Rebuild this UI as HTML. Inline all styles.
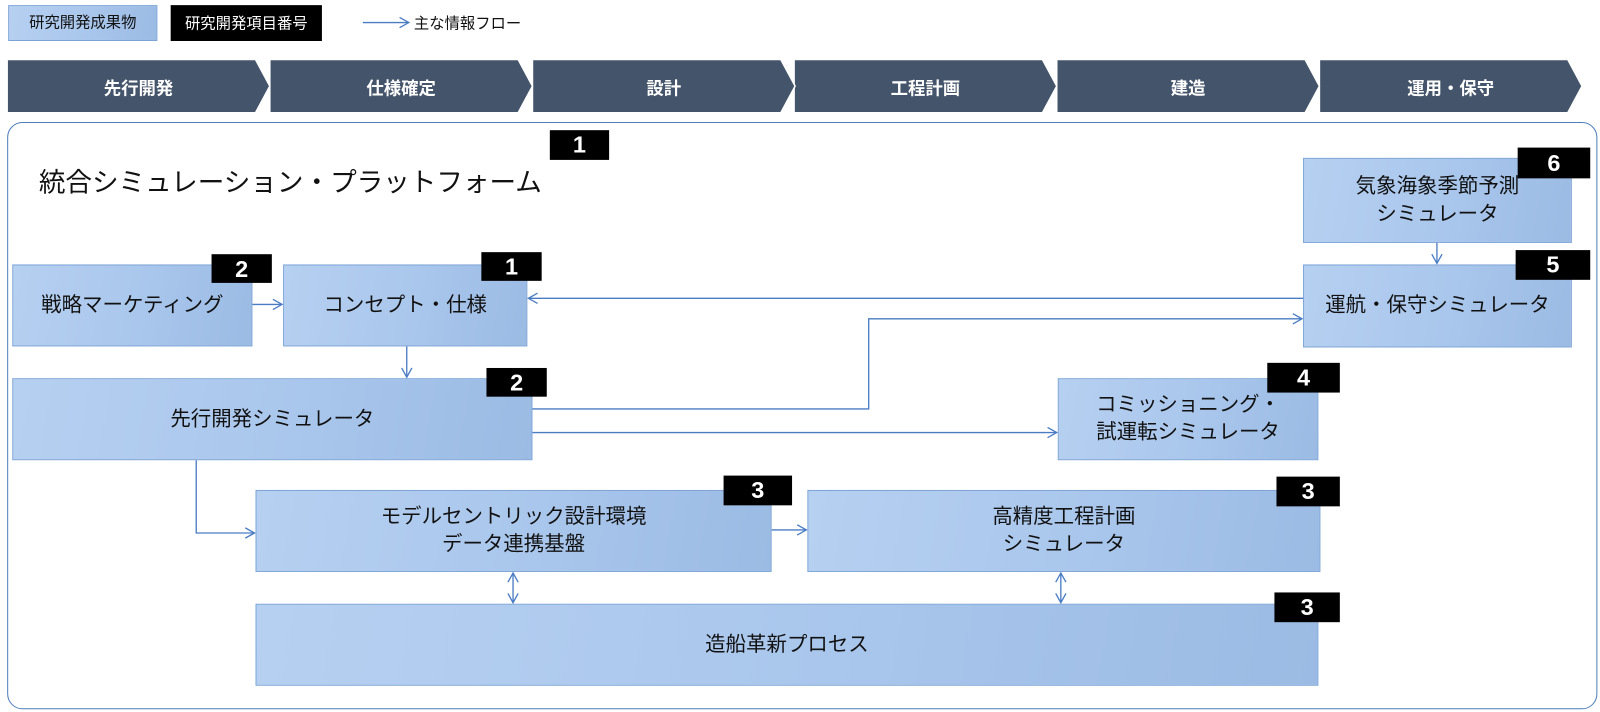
<!DOCTYPE html>
<html><head><meta charset="utf-8"><style>
body{margin:0;background:#fff;width:1600px;height:712px;overflow:hidden;font-family:"Liberation Sans","Noto Sans CJK JP",sans-serif}
#w{position:absolute;left:0;top:0;width:1566px;height:695px;transform:scale(1.022,1.025);transform-origin:0 0}
.b{position:absolute;box-sizing:border-box;border:1.5px solid #7ba3d6;background:linear-gradient(100deg,#b6d0f1 0%,#a9c6ec 55%,#9bbbe4 100%);display:flex;align-items:center;justify-content:center;text-align:center;font-size:20px;line-height:27px;color:#111}
.n{position:absolute;background:#000;color:#fff;font-size:23px;font-weight:bold;display:flex;align-items:center;justify-content:center;box-sizing:border-box}
.ct{position:absolute;top:58px;height:52px;width:257px;color:#fff;font-size:17px;font-weight:bold;display:flex;align-items:center;justify-content:center}
</style></head><body><div id="w">
<div class="b" style="left:8px;top:5px;width:146px;height:35px;font-size:15px;">研究開発成果物</div>
<div class="n" style="left:167px;top:5px;width:148px;height:35px;font-size:15px;font-weight:normal">研究開発項目番号</div>
<div style="position:absolute;left:405px;top:12px;font-size:15px;color:#111">主な情報フロー</div>

<svg style="position:absolute;left:0;top:0" width="1566" height="120">
<g fill="#44546a" stroke="#fff" stroke-width="1.5">
<polygon points="1291,58 1534,58 1548,84 1534,110 1291,110"/>
<polygon points="1034,58 1277,58 1291,84 1277,110 1034,110"/>
<polygon points="777,58 1020,58 1034,84 1020,110 777,110"/>
<polygon points="521,58 764,58 778,84 764,110 521,110"/>
<polygon points="264,58 507,58 521,84 507,110 264,110"/>
<polygon points="7,58 250,58 264,84 250,110 7,110"/>
</g></svg>
<div class="ct" style="left:7px">先行開発</div>
<div class="ct" style="left:264px">仕様確定</div>
<div class="ct" style="left:521px">設計</div>
<div class="ct" style="left:777px">工程計画</div>
<div class="ct" style="left:1034px">建造</div>
<div class="ct" style="left:1291px">運用・保守</div>

<div style="position:absolute;left:7px;top:119px;width:1556px;height:573px;box-sizing:border-box;border:1.5px solid #4f7fba;border-radius:15px"></div>
<div style="position:absolute;left:38px;top:158px;font-size:26px;color:#111">統合シミュレーション・プラットフォーム</div>
<div class="n" style="left:538px;top:127px;width:58px;height:29px">1</div>

<div class="b" style="left:1275px;top:154px;width:263px;height:83px">気象海象季節予測<br>シミュレータ</div>
<div class="n" style="left:1485px;top:144px;width:71px;height:30px">6</div>
<div class="b" style="left:1275px;top:258px;width:263px;height:81px">運航・保守シミュレータ</div>
<div class="n" style="left:1483px;top:244px;width:73px;height:29px">5</div>

<div class="b" style="left:12px;top:258px;width:235px;height:80px">戦略マーケティング</div>
<div class="n" style="left:207px;top:248px;width:59px;height:28px">2</div>
<div class="b" style="left:277px;top:258px;width:239px;height:80px">コンセプト・仕様</div>
<div class="n" style="left:471px;top:246px;width:59px;height:28px">1</div>

<div class="b" style="left:12px;top:369px;width:509px;height:80px">先行開発シミュレータ</div>
<div class="n" style="left:476px;top:359px;width:59px;height:28px">2</div>

<div class="b" style="left:1035px;top:369px;width:255px;height:80px">コミッショニング・<br>試運転シミュレータ</div>
<div class="n" style="left:1240px;top:354px;width:71px;height:29px">4</div>

<div class="b" style="left:250px;top:478px;width:505px;height:80px">モデルセントリック設計環境<br>データ連携基盤</div>
<div class="n" style="left:708px;top:464px;width:67px;height:29px">3</div>
<div class="b" style="left:790px;top:478px;width:502px;height:80px">高精度工程計画<br>シミュレータ</div>
<div class="n" style="left:1249px;top:465px;width:62px;height:29px">3</div>
<div class="b" style="left:250px;top:589px;width:1040px;height:80px">造船革新プロセス</div>
<div class="n" style="left:1247px;top:578px;width:64px;height:29px">3</div>

<svg style="position:absolute;left:0;top:0" width="1566" height="695" fill="none" stroke="#4a7cc4" stroke-width="1.3">
<defs><marker id="a" markerWidth="12" markerHeight="12" refX="10" refY="6" orient="auto-start-reverse" markerUnits="userSpaceOnUse"><polyline points="1,1 10,6 1,11" fill="none" stroke="#4a7cc4" stroke-width="1.3"/></marker></defs>
<line x1="355" y1="22" x2="400" y2="22" marker-end="url(#a)"/>
<line x1="247" y1="297" x2="276" y2="297" marker-end="url(#a)"/>
<line x1="1275" y1="291" x2="517" y2="291" marker-end="url(#a)"/>
<line x1="398" y1="338" x2="398" y2="368" marker-end="url(#a)"/>
<polyline points="521,399 850,399 850,311 1274,311" marker-end="url(#a)"/>
<line x1="521" y1="422" x2="1034" y2="422" marker-end="url(#a)"/>
<polyline points="192,449 192,520 249,520" marker-end="url(#a)"/>
<line x1="755" y1="517" x2="789" y2="517" marker-end="url(#a)"/>
<line x1="1406" y1="237" x2="1406" y2="257" marker-end="url(#a)"/>
<line x1="502" y1="559" x2="502" y2="588" marker-start="url(#a)" marker-end="url(#a)"/>
<line x1="1038" y1="559" x2="1038" y2="588" marker-start="url(#a)" marker-end="url(#a)"/>
</svg>
</div></body></html>
